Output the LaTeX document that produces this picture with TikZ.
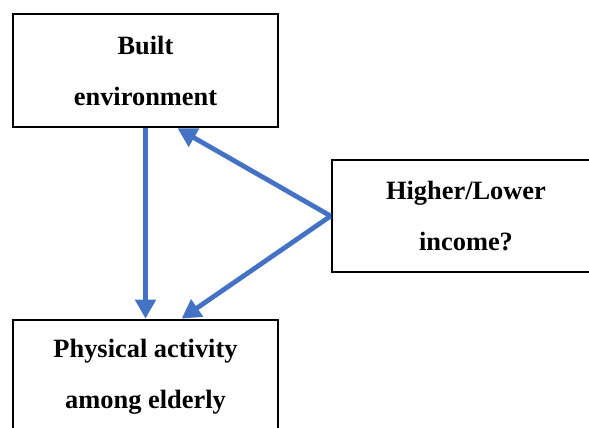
\documentclass[tikz,border=0pt]{standalone}
\usepackage{fontspec}
\setmainfont{Liberation Serif}
\usetikzlibrary{arrows.meta}

\definecolor{arrowblue}{HTML}{4472C4}

\begin{document}
\begin{tikzpicture}[x=0.5pt,y=-0.5pt,
    box/.style={draw=black, line width=1.3pt, fill=white, align=center,
        font=\fontsize{13.2}{25.5}\selectfont\bfseries, inner sep=0pt},
    flow/.style={arrowblue, line width=2.4pt,
        -{Triangle[length=9.5pt,width=10pt]}}]
    % Рамка рисунка
    \useasboundingbox (0,0) rectangle (589,428);

    % Блоки
    \node[box, minimum width=265*0.5pt, minimum height=113*0.5pt] (built)
        at (145.5,70.5) {Built\\environment};
    \node[box, minimum width=268*0.5pt, minimum height=112*0.5pt] (income)
        at (466,216) {Higher/Lower\\income?};
    \node[box, minimum width=265*0.5pt, minimum height=113*0.5pt] (activity)
        at (145.5,376.5) {Physical activity\\among elderly};

    % Стрелки
    \draw[flow] (built.south) -- (activity.north);
    \draw[flow] (income.west) -- ([xshift=16pt]built.south);
    \draw[flow] (income.west) -- ([xshift=18pt]activity.north);
\end{tikzpicture}
\end{document}
